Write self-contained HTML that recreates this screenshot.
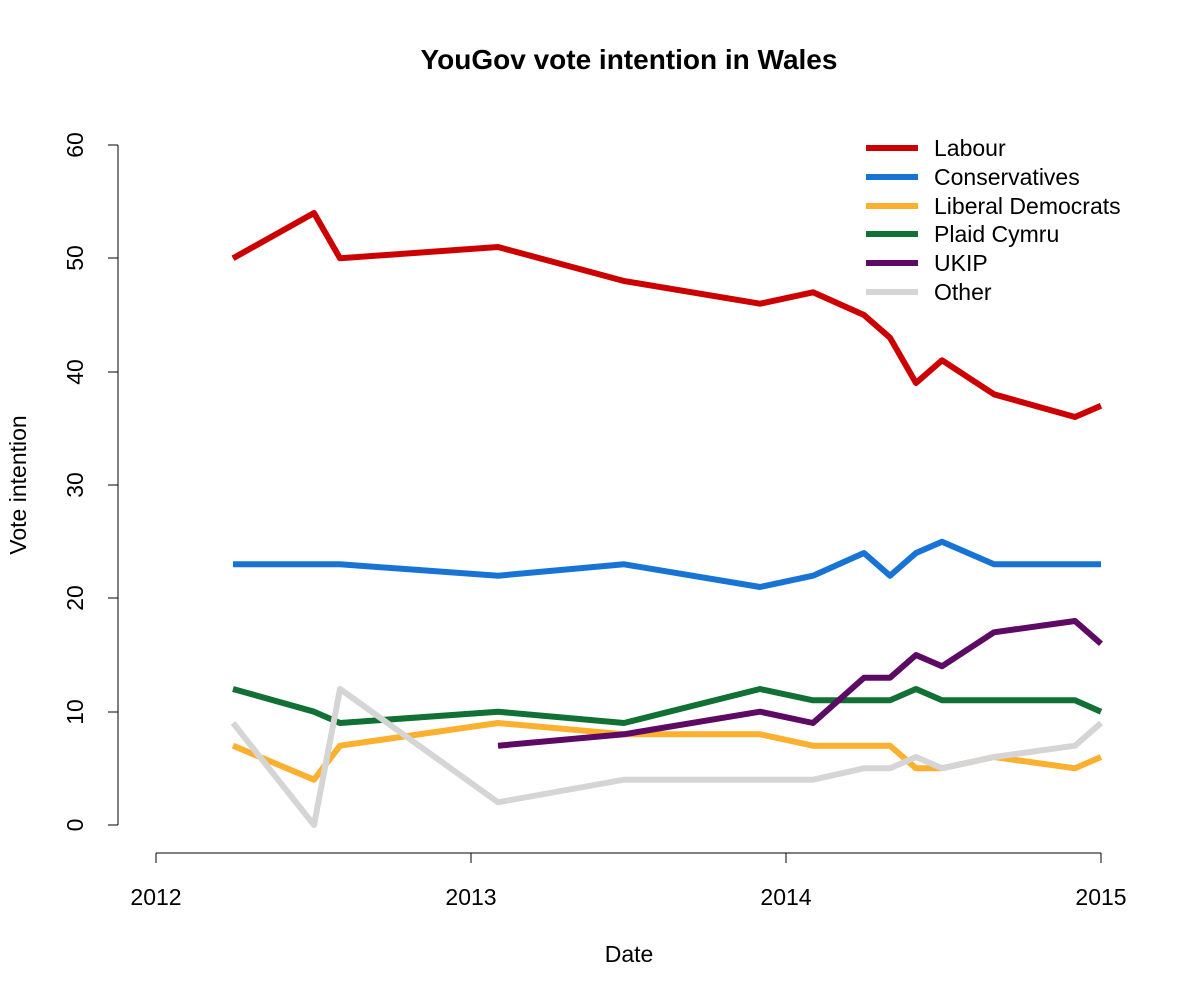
<!DOCTYPE html>
<html><head><meta charset="utf-8"><style>body{margin:0;background:#fff}</style></head><body>
<svg width="1200" height="1000" xmlns="http://www.w3.org/2000/svg" font-family="Liberation Sans, sans-serif">
<rect width="1200" height="1000" fill="#fff"/>
<text x="629" y="69" font-size="28" font-weight="bold" text-anchor="middle">YouGov vote intention in Wales</text>
<g stroke="#000" stroke-width="1" fill="none">
<line x1="118" y1="145" x2="118" y2="825"/>
<line x1="108" y1="825" x2="118" y2="825"/><line x1="108" y1="712" x2="118" y2="712"/><line x1="108" y1="598" x2="118" y2="598"/><line x1="108" y1="485" x2="118" y2="485"/><line x1="108" y1="372" x2="118" y2="372"/><line x1="108" y1="258" x2="118" y2="258"/><line x1="108" y1="145" x2="118" y2="145"/>
<line x1="156" y1="853" x2="1101" y2="853"/>
<line x1="156" y1="853" x2="156" y2="863"/><line x1="471" y1="853" x2="471" y2="863"/><line x1="786" y1="853" x2="786" y2="863"/><line x1="1101" y1="853" x2="1101" y2="863"/>
</g>
<g font-size="23" text-anchor="middle">
<text transform="translate(83,825) rotate(-90)">0</text>
<text transform="translate(83,712) rotate(-90)">10</text>
<text transform="translate(83,598) rotate(-90)">20</text>
<text transform="translate(83,485) rotate(-90)">30</text>
<text transform="translate(83,372) rotate(-90)">40</text>
<text transform="translate(83,258) rotate(-90)">50</text>
<text transform="translate(83,145) rotate(-90)">60</text>
<text x="156" y="905">2012</text><text x="471" y="905">2013</text><text x="786" y="905">2014</text><text x="1101" y="905">2015</text>
<text x="629" y="962">Date</text>
<text transform="translate(26,485) rotate(-90)">Vote intention</text>
</g>
<g fill="none" stroke-width="6" stroke-linejoin="round">
<polyline stroke="#cc0000" points="233,258.3 314,213 340,258.3 498,247 624,281 760,303.7 813,292.3 864,315 890,337.7 916,383 942,360.3 994,394.3 1075,417 1101,405.7"/>
<polyline stroke="#1874d4" points="233,564.3 314,564.3 340,564.3 498,575.7 624,564.3 760,587 813,575.7 864,553 890,575.7 916,553 942,541.7 994,564.3 1075,564.3 1101,564.3"/>
<polyline stroke="#fbb030" points="233,745.7 314,779.7 340,745.7 498,723 624,734.3 760,734.3 813,745.7 864,745.7 890,745.7 916,768.3 942,768.3 994,757 1075,768.3 1101,757"/>
<polyline stroke="#117033" points="233,689 314,711.7 340,723 498,711.7 624,723 760,689 813,700.3 864,700.3 890,700.3 916,689 942,700.3 994,700.3 1075,700.3 1101,711.7"/>
<polyline stroke="#5c0a63" points="498,745.7 624,734.3 760,711.7 813,723 864,677.7 890,677.7 916,655 942,666.3 994,632.3 1075,621 1101,643.7"/>
<polyline stroke="#d5d5d5" points="233,723 314,825 340,689 498,802.3 624,779.7 760,779.7 813,779.7 864,768.3 890,768.3 916,757 942,768.3 994,757 1075,745.7 1101,723"/>
<line x1="866" y1="148" x2="918" y2="148" stroke="#cc0000"/>
<line x1="866" y1="177" x2="918" y2="177" stroke="#1874d4"/>
<line x1="866" y1="206" x2="918" y2="206" stroke="#fbb030"/>
<line x1="866" y1="234" x2="918" y2="234" stroke="#117033"/>
<line x1="866" y1="263" x2="918" y2="263" stroke="#5c0a63"/>
<line x1="866" y1="292" x2="918" y2="292" stroke="#d5d5d5"/>
</g>
<g font-size="23">
<text x="934" y="156">Labour</text>
<text x="934" y="185">Conservatives</text>
<text x="934" y="214">Liberal Democrats</text>
<text x="934" y="242">Plaid Cymru</text>
<text x="934" y="271">UKIP</text>
<text x="934" y="300">Other</text>
</g>
</svg>
</body></html>
